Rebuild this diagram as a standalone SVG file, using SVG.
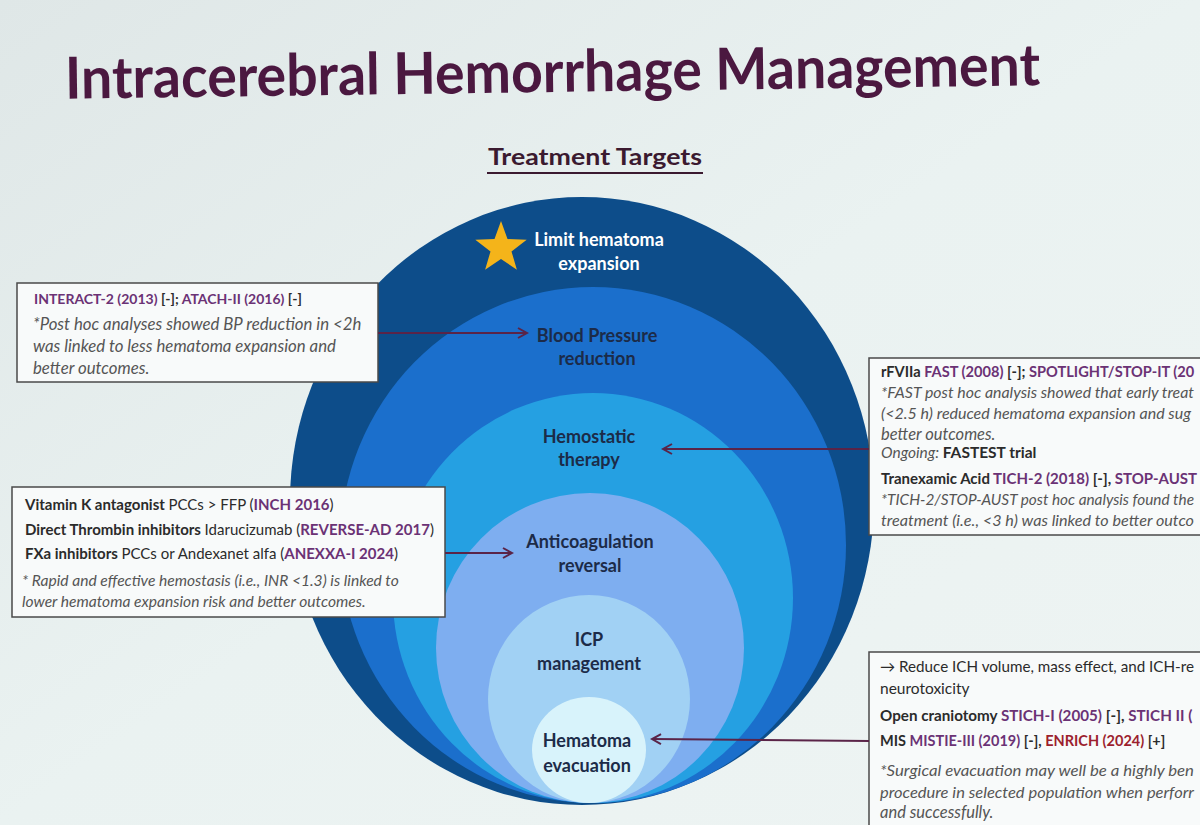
<svg xmlns="http://www.w3.org/2000/svg" width="1200" height="825" viewBox="0 0 1200 825">
<defs>
<linearGradient id="bg" x1="0" y1="0" x2="1" y2="1">
<stop offset="0" stop-color="#dfe7e7"/>
<stop offset="0.5" stop-color="#eaf2f1"/>
<stop offset="1" stop-color="#eef4f3"/>
</linearGradient>
<marker id="ah" viewBox="0 0 12 12" refX="10" refY="6" markerWidth="12" markerHeight="12" markerUnits="userSpaceOnUse" orient="auto">
<path d="M1,1 L10,6 L1,11" fill="none" stroke="#5a2448" stroke-width="2"/>
</marker>
<style>
.t{font-family:Lato,"Open Sans","Liberation Sans",sans-serif}
.lbl{font-family:Lato,"Open Sans",sans-serif;font-weight:700;font-size:18px;fill:#1c2b48;text-anchor:middle}
.wl{fill:#ffffff}
.box{fill:#f8fafa;stroke:#4a4a4a;stroke-width:1.5}
.b{font-weight:700;fill:#2b2b2b}
.p{font-weight:700;fill:#6b3275}
.r{font-weight:700;fill:#9c1f2e}
.n{font-weight:400;fill:#2b2b2b}
.it{font-style:italic;fill:#555555}
.con{fill:none;stroke:#5a2448;stroke-width:2;marker-end:url(#ah)}
</style>
</defs>
<rect x="0" y="0" width="1200" height="825" fill="url(#bg)"/>
<g id="title">
<text class="t" x="65" y="92" font-size="58" font-weight="700" fill="#4b1840" textLength="975" lengthAdjust="spacingAndGlyphs" transform="rotate(-0.8 552 70)">Intracerebral Hemorrhage Management</text>
<text class="t" x="595" y="165" font-size="22" font-weight="700" fill="#3b1a30" text-anchor="middle" textLength="214" lengthAdjust="spacingAndGlyphs">Treatment Targets</text>
<line x1="487" y1="173" x2="703" y2="173" stroke="#3b1a30" stroke-width="2"/>
</g>
<g id="ring-limit">
<ellipse cx="582" cy="501" rx="292" ry="304" fill="#0d4d8a"/>
<polygon points="501,221 507.5,239.1 526.7,239.7 511.5,251.4 516.9,269.8 501,259 485.1,269.8 490.5,251.4 475.3,239.7 494.5,239.1" fill="#f4b41a"/>
<text class="lbl wl" x="599" y="246">Limit hematoma</text>
<text class="lbl wl" x="599" y="270">expansion</text>
</g>
<g id="ring-bp">
<ellipse cx="593" cy="545" rx="253" ry="258" fill="#1b6fcc"/>
<text class="lbl" x="597" y="342">Blood Pressure</text>
<text class="lbl" x="597" y="365">reduction</text>
</g>
<g id="ring-hemostatic">
<ellipse cx="593" cy="598" rx="200" ry="205" fill="#25a0e2"/>
<text class="lbl" x="589" y="443">Hemostatic</text>
<text class="lbl" x="589" y="466">therapy</text>
</g>
<g id="ring-anticoag">
<ellipse cx="590" cy="648" rx="154" ry="155" fill="#7eaef0"/>
<text class="lbl" x="590" y="548">Anticoagulation</text>
<text class="lbl" x="590" y="572">reversal</text>
</g>
<g id="ring-icp">
<ellipse cx="589" cy="699" rx="101" ry="104" fill="#a1d1f4"/>
<text class="lbl" x="589" y="646">ICP</text>
<text class="lbl" x="589" y="670">management</text>
</g>
<g id="ring-evac">
<ellipse cx="589" cy="750" rx="57" ry="53" fill="#d8f3fb"/>
<text class="lbl" x="587" y="747">Hematoma</text>
<text class="lbl" x="587" y="772">evacuation</text>
</g>
<g id="box-bp">
<rect class="box" x="17" y="283" width="361" height="99"/>
<text class="t" x="34" y="304" font-size="14"><tspan class="p">INTERACT-2 (2013) </tspan><tspan class="b">[-]; </tspan><tspan class="p">ATACH-II (2016) </tspan><tspan class="b">[-]</tspan></text>
<text class="t it" x="33" y="330" font-size="16.8">*Post hoc analyses showed BP reduction in &lt;2h</text>
<text class="t it" x="33" y="352" font-size="16.8">was linked to less hematoma expansion and</text>
<text class="t it" x="33" y="374" font-size="16.8">better outcomes.</text>
</g>
<g id="box-hemostatic">
<rect class="box" x="869" y="358" width="400" height="177"/>
<text class="t" x="881" y="377" font-size="14.6"><tspan class="b">rFVIIa </tspan><tspan class="p">FAST (2008) </tspan><tspan class="b">[-]; </tspan><tspan class="p">SPOTLIGHT/STOP-IT (20</tspan></text>
<text class="t it" x="881" y="398" font-size="15.6" textLength="313" lengthAdjust="spacingAndGlyphs">*FAST post hoc analysis showed that early treat</text>
<text class="t it" x="881" y="419" font-size="15.6" textLength="310" lengthAdjust="spacingAndGlyphs">(&lt;2.5 h) reduced hematoma expansion and sug</text>
<text class="t it" x="881" y="440" font-size="16.5">better outcomes.</text>
<text class="t" x="881" y="458" font-size="15.5"><tspan class="it">Ongoing: </tspan><tspan class="b" fill="#3a2440">FASTEST trial</tspan></text>
<text class="t" x="881" y="484" font-size="15"><tspan class="b">Tranexamic Acid </tspan><tspan class="p">TICH-2 (2018) </tspan><tspan class="b">[-], </tspan><tspan class="p">STOP-AUST</tspan></text>
<text class="t it" x="881" y="505" font-size="15.4" textLength="313" lengthAdjust="spacingAndGlyphs">*TICH-2/STOP-AUST post hoc analysis found the</text>
<text class="t it" x="881" y="526" font-size="15.4" textLength="313" lengthAdjust="spacingAndGlyphs">treatment (i.e., &lt;3 h) was linked to better outco</text>
</g>
<g id="box-anticoag">
<rect class="box" x="12" y="487" width="433" height="130"/>
<text class="t" x="25" y="510" font-size="15"><tspan class="b">Vitamin K antagonist </tspan><tspan class="n">PCCs &gt; FFP (</tspan><tspan class="p">INCH 2016</tspan><tspan class="n">)</tspan></text>
<text class="t" x="25" y="535" font-size="15"><tspan class="b">Direct Thrombin inhibitors </tspan><tspan class="n">Idarucizumab (</tspan><tspan class="p">REVERSE-AD 2017</tspan><tspan class="n">)</tspan></text>
<text class="t" x="25" y="559" font-size="15"><tspan class="b">FXa inhibitors </tspan><tspan class="n">PCCs or Andexanet alfa (</tspan><tspan class="p">ANEXXA-I 2024</tspan><tspan class="n">)</tspan></text>
<text class="t it" x="22" y="586" font-size="15.6">* Rapid and effective hemostasis (i.e., INR &lt;1.3) is linked to</text>
<text class="t it" x="22" y="607" font-size="15.6">lower hematoma expansion risk and better outcomes.</text>
</g>
<g id="box-evac">
<rect class="box" x="869" y="652" width="400" height="200"/>
<text class="t n" x="880" y="672" font-size="15.4" textLength="314" lengthAdjust="spacingAndGlyphs">→ Reduce ICH volume, mass effect, and ICH-re</text>
<text class="t n" x="880" y="694" font-size="15.5">neurotoxicity</text>
<text class="t" x="880" y="721" font-size="15.2"><tspan class="b">Open craniotomy </tspan><tspan class="p">STICH-I (2005) </tspan><tspan class="b">[-], </tspan><tspan class="p">STICH II (</tspan></text>
<text class="t" x="880" y="746" font-size="14.5"><tspan class="b">MIS </tspan><tspan class="p">MISTIE-III (2019) </tspan><tspan class="b">[-], </tspan><tspan class="r">ENRICH (2024) </tspan><tspan class="b">[+]</tspan></text>
<text class="t it" x="880" y="776" font-size="16.2" textLength="314" lengthAdjust="spacingAndGlyphs">*Surgical evacuation may well be a highly ben</text>
<text class="t it" x="880" y="798" font-size="16.2" textLength="314" lengthAdjust="spacingAndGlyphs">procedure in selected population when perforr</text>
<text class="t it" x="880" y="818" font-size="16.5">and successfully.</text>
</g>
<g id="connectors">
<path class="con" d="M378,333 L527,333"/>
<path class="con" d="M869,449 L663,449"/>
<path class="con" d="M445,553 L512,553"/>
<path class="con" d="M869,741 L652,739"/>
</g>
</svg>
